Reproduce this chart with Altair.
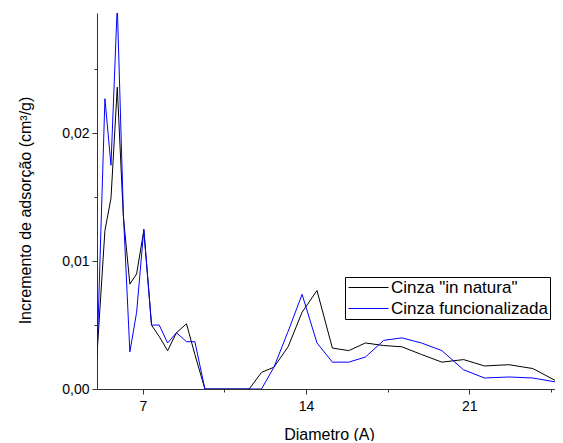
import altair as alt
import pandas as pd

diametro = [5.03, 5.37, 5.63, 5.90, 6.16, 6.44, 6.73, 7.04, 7.37, 7.70, 8.06, 8.44,
            8.87, 9.23, 9.66, 10.12, 10.59, 11.07, 11.56, 12.09, 12.62, 13.23, 13.83,
            14.47, 15.13, 15.83, 16.55, 17.33, 18.11, 18.95, 19.83, 20.76, 21.66,
            22.70, 23.73, 24.87]

natura = [0.0027, 0.0124, 0.0149, 0.0236, 0.0135, 0.0082, 0.0090, 0.0124, 0.0050,
          0.0041, 0.0030, 0.0044, 0.0051, 0.0027, 0.0, 0.0, 0.0, 0.0, 0.0, 0.0013,
          0.0017, 0.0033, 0.0060, 0.0077, 0.0032, 0.0030, 0.0036, 0.0034, 0.0033,
          0.0027, 0.0021, 0.0023, 0.0018, 0.0019, 0.0016, 0.0005]

funcional = [0.0024, 0.0227, 0.0175, 0.0300, 0.0138, 0.0029, 0.0060, 0.0125, 0.0050,
             0.0050, 0.0036, 0.0044, 0.0037, 0.0037, 0.0, 0.0, 0.0, 0.0, 0.0, 0.0,
             0.0017, 0.0045, 0.0074, 0.0036, 0.0021, 0.0021, 0.0025, 0.0038, 0.0040,
             0.0036, 0.0030, 0.0015, 0.00086, 0.00094, 0.00086, 0.0005]

series_names = ['Cinza "in natura"', "Cinza funcionalizada"]
series_colors = ["#000000", "#0000ff"]

rows = []
for name, vals in zip(series_names, [natura, funcional]):
    for i, (x, y) in enumerate(zip(diametro, vals)):
        rows.append({"d": x, "v": y, "s": name, "o": i})
df = pd.DataFrame(rows)

FONT = "Liberation Sans"

chart = alt.Chart(df).mark_line(strokeWidth=1, clip=True).encode(
    x=alt.X("d:Q", title="Diametro (A)",
            scale=alt.Scale(domain=[5.03, 24.94], nice=False, zero=False),
            axis=alt.Axis(values=[7, 10.5, 14, 17.5, 21, 24.5],
                          labelExpr="datum.value % 7 == 0 ? datum.label : ''",
                          grid=False, tickSize={"condition": {"test": "datum.value % 7 == 0", "value": 5}, "value": 3},
                          labelFontSize=14, titleFontSize=16, labelPadding=5,
                          titlePadding=13)),
    y=alt.Y("v:Q", title="Incremento de adsorção (cm³/g)",
            scale=alt.Scale(domain=[0, 0.0294], nice=False),
            axis=alt.Axis(values=[0, 0.005, 0.01, 0.015, 0.02, 0.025],
                          labelExpr="round(datum.value*200) % 2 == 0 ? replace(format(datum.value, '.2f'), '.', ',') : ''",
                          grid=False, tickSize={"condition": {"test": "round(datum.value*200) % 2 == 0", "value": 5}, "value": 3},
                          labelFontSize=14, titleFontSize=16, labelPadding=3,
                          titlePadding=28, titleY=197)),
    color=alt.Color("s:N", scale=alt.Scale(domain=series_names, range=series_colors),
                    legend=alt.Legend(title=None, orient="none", legendX=248, legendY=264,
                                      symbolType="M-4,0H4", symbolSize=100, symbolStrokeWidth=1,
                                      symbolOffset=13, labelOffset=14,
                                      labelFontSize=17, strokeColor="#000000", padding=2,
                                      rowPadding=3, labelLimit=300)),
    order="o:Q",
).properties(
    width=464, height=376,
    autosize=alt.AutoSizeParams(type="none"),
    padding={"left": 89, "top": 5, "right": -6, "bottom": 52},
).configure_view(stroke=None).configure_axis(
    domainColor="#333333", tickColor="#333333", labelColor="#000000", titleColor="#000000",
    labelFont=FONT, titleFont=FONT, titleFontWeight="normal", domainWidth=1, tickWidth=1
).configure_legend(labelFont=FONT)

chart.save("out.html", embed_options={"renderer": "svg", "actions": False})
